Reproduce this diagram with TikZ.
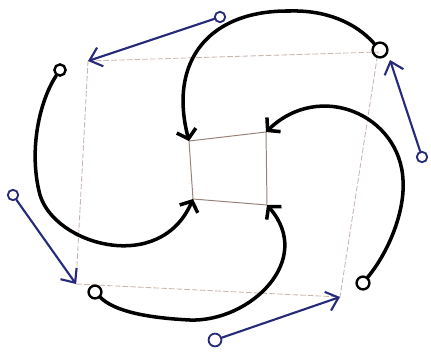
\documentclass[tikz,border=0pt]{standalone}
\usepackage{xcolor}
\usepackage{tikz}
\usetikzlibrary{arrows.meta}

\definecolor{penblue}{RGB}{38,42,122}
\definecolor{pencil}{RGB}{200,182,172}
\definecolor{pencildark}{RGB}{150,130,120}

\begin{document}
\begin{tikzpicture}[
  x=0.025cm, y=-0.025cm,
  ring/.style={circle, draw, line width=1.7pt, inner sep=0pt, minimum size=3.2mm},
  bluering/.style={circle, draw=penblue, line width=1.3pt, inner sep=0pt, minimum size=2.6mm},
  swirl/.style={line width=2.5pt, line cap=round, -{Straight Barb[length=6pt,width=14pt]}},
  push/.style={penblue, line width=1.5pt, line cap=round, -{Straight Barb[length=8pt,width=14pt]}},
  frame/.style={pencil, line width=0.6pt, dash pattern=on 4pt off 1.5pt}
]
\useasboundingbox (0,0) rectangle (431,358);

% outer frame
\coordinate (oTL) at (88,61);
\coordinate (oTR) at (378,52);
\coordinate (oBR) at (340,297);
\coordinate (oBL) at (76,284);
\draw[frame] (oTL) -- (oTR) -- (oBR) -- (oBL) -- cycle;

% inner square
\coordinate (iTL) at (189,141);
\coordinate (iTR) at (266,132);
\coordinate (iBR) at (267,205);
\coordinate (iBL) at (193,199);
\draw[pencildark, line width=0.7pt] (iTL) -- (iTR) -- (iBR) -- (iBL) -- cycle;

% black rings
\node[ring, minimum size=3.7mm] (cTR) at (380,50) {};
\node[ring, minimum size=2.8mm] (cTL) at (60,70) {};
\node[ring] (cBL) at (95,292) {};
\node[ring] (cBR) at (363,283) {};

% blue rings
\node[bluering] (bTL) at (220,17) {};
\node[bluering] (bTR) at (422,157) {};
\node[bluering] (bBL) at (13,195) {};
\node[bluering, minimum size=3.2mm] (bBR) at (215,340) {};
\coordinate (aTR) at (390,60);

% swirl arrows
\draw[swirl] (cTR) .. controls (355,22) and (325,10) .. (290,11)
  .. controls (210,10) and (168,60) .. (iTL);
\draw[swirl] (cBR) .. controls (390,250) and (405,210) .. (403,180)
  .. controls (400,115) and (320,80) .. (iTR);
\draw[swirl] (cTL) .. controls (40,100) and (28,150) .. (40,195)
  .. controls (55,245) and (160,275) .. (iBL);
\draw[swirl] (cBL) .. controls (115,312) and (150,318) .. (190,320)
  .. controls (250,322) and (315,260) .. (iBR);

% blue pushes
\draw[push] (bTL) -- (oTL);
\draw[push] (bTR) -- (aTR);
\draw[push] (bBL) -- (oBL);
\draw[push] (bBR) -- (oBR);
\end{tikzpicture}
\end{document}
